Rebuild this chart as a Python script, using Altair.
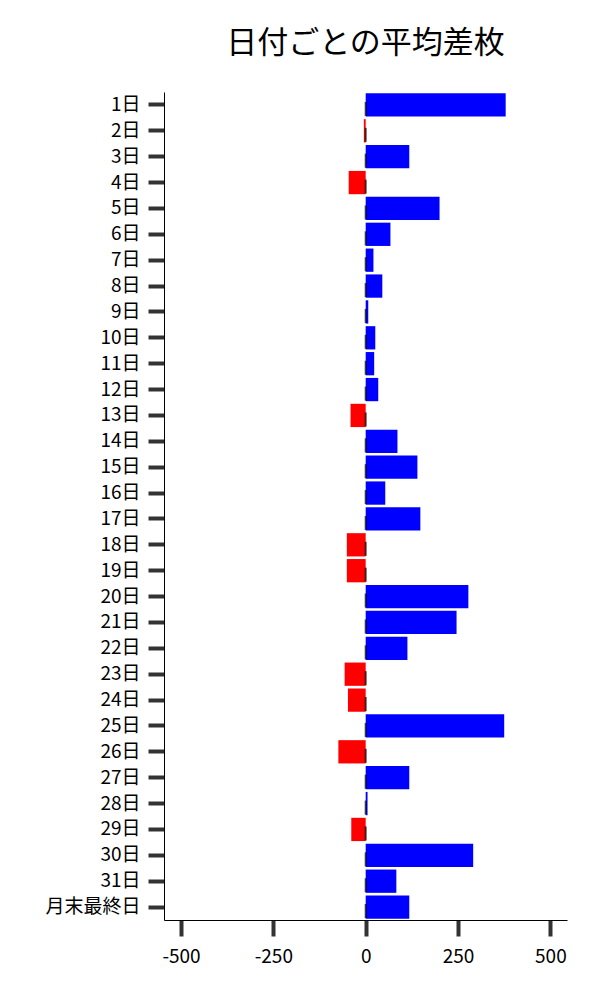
import altair as alt
import pandas as pd

days = ["1日", "2日", "3日", "4日", "5日", "6日", "7日", "8日", "9日", "10日",
        "11日", "12日", "13日", "14日", "15日", "16日", "17日", "18日", "19日", "20日",
        "21日", "22日", "23日", "24日", "25日", "26日", "27日", "28日", "29日", "30日",
        "31日", "月末最終日"]
values = [379, -5, 118, -46, 200, 67, 21, 45, 7, 26,
          23, 34, -41, 86, 140, 53, 148, -51, -51, 278,
          246, 113, -57, -48, 375, -74, 118, 5, -39, 291,
          83, 118]
x_ticks = [-500, -250, 0, 250, 500]

df = pd.DataFrame({"day": days, "value": values})

FONT = "Noto Sans CJK JP"

y_enc = alt.Y("day:N", sort=days, title=None,
              scale=alt.Scale(paddingInner=0.1, paddingOuter=0.05),
              axis=alt.Axis(labelFontSize=19, labelFont=FONT, labelColor="#000",
                            tickSize=16, tickWidth=4, tickColor="#333",
                            domainColor="#000", domainWidth=1, labelPadding=8))
x_enc = alt.X("value:Q", title=None,
              scale=alt.Scale(domain=[-546, 545], nice=False),
              axis=alt.Axis(values=x_ticks, labelFontSize=19, labelFont=FONT, labelColor="#000",
                            labelExpr="toString(datum.value)",
                            tickSize=16, tickWidth=4, tickColor="#333", grid=False,
                            domainColor="#000", domainWidth=1, labelPadding=11))

bars = alt.Chart(df).mark_bar().encode(
    y=y_enc,
    x=x_enc,
    color=alt.condition(alt.datum.value >= 0, alt.value("#0000ff"), alt.value("#ff0000")),
)

zero_ticks = alt.Chart(df).mark_tick(color="#000", thickness=2, size=14, orient="vertical",
                                     yOffset=4).encode(
    y=alt.Y("day:N", sort=days),
    x=alt.datum(0),
)

chart = alt.layer(bars, zero_ticks).properties(
    width=403,
    height=828,
    title=alt.Title("日付ごとの平均差枚", fontSize=31, font=FONT, fontWeight="normal",
                    anchor="middle", offset=32, color="#000"),
    padding={"left": 36, "top": 20, "right": 10, "bottom": 10},
).configure_view(stroke=None).configure_axis(grid=False)

chart.save("out.html", embed_options={"renderer": "svg", "actions": False})
